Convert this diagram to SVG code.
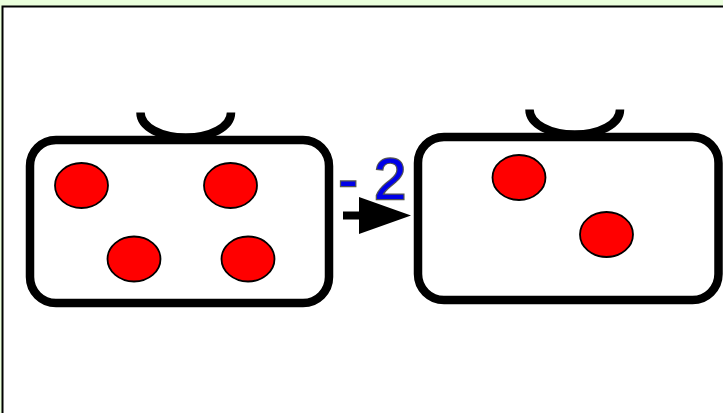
<svg xmlns="http://www.w3.org/2000/svg" width="723" height="413" viewBox="0 0 723 413">
<style>
.box{fill:none;stroke:#000;stroke-width:8.500}
.ball{fill:#f00;stroke:#000;stroke-width:1.800}
.num{font-family:"Liberation Sans",Arial,sans-serif;font-size:58px;fill:#0000e8;stroke:#555;stroke-width:2.400;paint-order:stroke}
</style>
<rect width="723" height="413" fill="#eaffdc"/>
<rect x="2.5" y="6.5" width="725" height="412" fill="#fff" stroke="#000" stroke-width="2"/>
<g id="connectors">
<path d="M343 215.500H360" fill="none" stroke="#000" stroke-width="8"/>
<polygon points="359,197 411,215.500 359,234" fill="#000"/>
</g>
<g id="label"><text class="num" x="338.500" y="198.500" xml:space="preserve">- 2</text></g>
<g id="box-left">
<path class="box" d="M140.500 112.500C140.500 127 161 137.500 185.750 137.500S231 127 231 112.500"/>
<rect class="box" x="30" y="140" width="299" height="163" rx="26"/>
<ellipse class="ball" cx="81.500" cy="185.500" rx="26.500" ry="22.500"/>
<ellipse class="ball" cx="230.500" cy="185.500" rx="26.500" ry="22.500"/>
<ellipse class="ball" cx="134" cy="259" rx="26.500" ry="22.500"/>
<ellipse class="ball" cx="248" cy="259" rx="26.500" ry="22.500"/>
</g>
<g id="box-right">
<path class="box" d="M529.500 109.500C529.500 124 550 134.500 574.750 134.500S620 124 620 109.500"/>
<rect class="box" x="418" y="137" width="300.500" height="163" rx="26"/>
<ellipse class="ball" cx="519" cy="177.500" rx="26.500" ry="22.500"/>
<ellipse class="ball" cx="606.500" cy="234.500" rx="26.500" ry="22.500"/>
</g>
</svg>
